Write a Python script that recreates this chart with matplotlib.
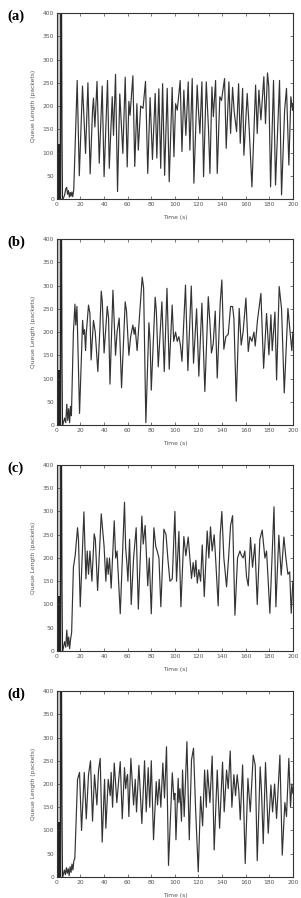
import numpy as np
import matplotlib
matplotlib.use("Agg")
import matplotlib.pyplot as plt

# start-up burst shared by all four runs
burst_t = [0.5, 3.0]
burst_top = [400, 400]
burst_base = [118, 118]
spike_t = [0.0, 3.0, 3.3, 3.9, 4.3, 4.7]
spike_v = [118, 0, 430, 430, 135, 0]

# (a)
qa_time = [5.2, 6.5, 7.5, 8.3, 9.0, 9.8, 10.6, 11.3, 12.0, 12.7,
           13.4, 14.3, 17.2, 19.0, 21.7, 22.5, 24.3, 26.3, 28.2, 30.2,
           31.0, 32.2, 34.0, 35.9, 38.4, 40.0, 42.9, 44.4, 46.9, 48.0,
           49.7, 51.4, 53.3, 55.9, 57.9, 59.6, 61.0, 62.0, 64.4, 66.0,
           67.8, 69.0, 71.0, 73.0, 75.1, 77.0, 79.0, 81.0, 83.3, 84.7,
           86.4, 88.0, 89.6, 91.3, 93.5, 95.2, 97.7, 99.2, 100.6, 102.0,
           104.5, 106.0, 107.6, 109.3, 111.3, 112.7, 114.7, 116.1, 118.9, 120.0,
           121.2, 122.9, 124.3, 126.6, 128.5, 129.7, 131.4, 132.6, 134.5, 135.9,
           138.1, 139.5, 142.1, 143.5, 145.8, 147.2, 148.9, 150.3, 152.3, 154.0,
           155.4, 157.4, 158.5, 161.3, 163.0, 165.3, 168.4, 169.8, 171.2, 172.9,
           175.4, 176.8, 178.5, 179.6, 181.1, 183.6, 185.3, 188.7, 190.4, 193.0,
           194.6, 196.6, 198.3, 199.7, 200.0]
qa_len = [0, 8, 22, 25, 10, 18, 4, 14, 6, 15,
          5, 20, 255, 50, 243, 200, 98, 250, 54, 190,
          217, 155, 253, 77, 243, 48, 255, 66, 220, 137,
          268, 16, 226, 98, 262, 69, 210, 180, 265, 70,
          205, 105, 200, 195, 253, 55, 218, 85, 227, 88,
          237, 66, 248, 51, 238, 37, 240, 91, 205, 191,
          255, 102, 234, 137, 252, 105, 259, 34, 245, 190,
          141, 252, 48, 252, 150, 55, 241, 177, 255, 55,
          220, 212, 259, 109, 252, 141, 240, 187, 145, 248,
          120, 238, 94, 227, 150, 26, 245, 141, 234, 170,
          263, 162, 271, 241, 26, 255, 30, 255, 9, 191,
          238, 73, 220, 191, 205]

# (b)
qb_time = [5.0, 6.5, 7.5, 8.4, 9.2, 10.0, 10.8, 11.5, 12.3, 14.0,
           15.3, 16.0, 17.0, 19.2, 21.8, 22.6, 23.4, 24.3, 25.0, 26.8,
           28.0, 29.0, 31.0, 32.5, 34.7, 36.5, 37.6, 38.5, 40.0, 42.7,
           43.8, 45.0, 47.5, 49.7, 51.0, 52.8, 54.8, 57.9, 59.0, 61.0,
           62.5, 64.4, 65.5, 66.3, 68.0, 69.5, 72.3, 73.5, 75.4, 78.0,
           79.0, 80.0, 83.3, 84.3, 85.9, 89.0, 91.0, 93.3, 95.2, 97.7,
           99.0, 100.6, 102.0, 103.4, 104.8, 106.0, 109.0, 111.0, 113.9, 115.8,
           118.4, 120.3, 122.9, 125.4, 128.3, 129.7, 131.0, 132.5, 134.2, 135.9,
           138.4, 139.8, 141.5, 143.2, 145.2, 147.2, 148.9, 150.0, 152.0, 154.5,
           156.2, 157.8, 160.2, 162.2, 163.6, 165.3, 167.0, 168.1, 170.0, 172.9,
           175.2, 177.7, 179.7, 181.4, 182.5, 184.8, 186.2, 188.4, 190.4, 192.7,
           195.8, 198.0, 199.1, 200.0]
qb_len = [0, 15, 5, 45, 10, 35, 5, 40, 20, 200,
          260, 215, 255, 25, 225, 195, 205, 160, 200, 258,
          240, 140, 225, 200, 115, 210, 288, 265, 155, 255,
          230, 88, 290, 150, 200, 230, 80, 265, 245, 150,
          190, 215, 195, 210, 160, 215, 318, 295, 5, 220,
          180, 75, 275, 245, 125, 265, 115, 294, 120, 258,
          180, 200, 180, 190, 170, 137, 301, 117, 299, 133,
          250, 105, 262, 72, 276, 220, 155, 175, 245, 101,
          262, 312, 163, 190, 195, 255, 255, 230, 51, 251,
          172, 200, 273, 158, 190, 180, 200, 170, 225, 283,
          122, 240, 151, 237, 160, 243, 97, 298, 250, 69,
          251, 190, 160, 200]

# (c)
qc_time = [5.0, 6.5, 7.5, 8.4, 9.2, 10.0, 10.8, 11.6, 12.5, 14.0,
           15.5, 17.5, 18.3, 19.8, 22.9, 24.6, 25.7, 26.8, 28.0, 29.7,
           31.6, 32.6, 34.5, 36.0, 37.6, 38.8, 40.0, 41.5, 42.5, 43.5,
           44.6, 46.0, 48.6, 49.8, 51.0, 53.7, 57.3, 58.3, 59.3, 60.2,
           61.6, 63.0, 65.0, 67.2, 69.0, 72.0, 73.2, 74.8, 77.0, 78.3,
           80.0, 82.2, 83.8, 85.0, 86.5, 88.1, 90.7, 92.5, 94.0, 95.8,
           97.8, 100.0, 101.4, 103.4, 105.1, 107.6, 109.3, 111.3, 112.7, 114.1,
           115.5, 116.7, 117.8, 119.0, 120.3, 121.8, 123.2, 124.9, 127.4, 128.8,
           130.2, 131.6, 133.3, 134.5, 136.7, 138.4, 139.8, 141.5, 143.8, 145.5,
           147.2, 148.9, 150.9, 153.1, 155.1, 156.5, 157.9, 159.3, 160.7, 162.2,
           164.1, 165.8, 167.8, 169.8, 172.0, 174.0, 176.3, 177.7, 179.1, 180.5,
           184.0, 185.6, 188.1, 190.1, 192.4, 194.1, 195.8, 197.3, 198.6, 200.0]
qc_len = [0, 20, 8, 45, 10, 30, 5, 25, 40, 180,
          205, 265, 240, 95, 299, 155, 215, 165, 215, 150,
          252, 240, 130, 210, 295, 260, 225, 150, 200, 165,
          200, 135, 280, 200, 215, 80, 320, 220, 190, 150,
          240, 100, 200, 265, 90, 290, 230, 270, 140, 200,
          80, 265, 225, 215, 200, 95, 262, 250, 200, 150,
          155, 300, 150, 257, 95, 246, 205, 245, 200, 156,
          190, 160, 195, 146, 175, 150, 228, 117, 258, 200,
          267, 215, 250, 200, 97, 250, 300, 200, 138, 200,
          270, 291, 77, 200, 215, 205, 200, 215, 160, 140,
          244, 180, 230, 100, 240, 260, 200, 215, 150, 81,
          310, 95, 249, 163, 245, 200, 165, 170, 81, 150]

# (d)
qd_time = [5.0, 6.3, 7.2, 8.0, 8.8, 9.6, 10.4, 11.2, 12.0, 12.8,
           13.6, 14.4, 15.2, 17.5, 19.2, 20.9, 23.2, 24.9, 26.8, 28.5,
           30.2, 31.9, 33.9, 35.3, 36.7, 38.4, 40.4, 41.5, 43.5, 45.2,
           46.0, 47.2, 48.6, 49.8, 50.8, 53.7, 55.4, 57.3, 58.3, 59.3,
           59.9, 61.0, 62.7, 65.0, 66.4, 67.5, 69.5, 72.0, 74.3, 75.7,
           77.4, 78.7, 80.0, 81.9, 84.2, 85.3, 86.7, 88.1, 89.8, 91.2,
           92.9, 94.6, 97.8, 99.2, 100.0, 100.9, 102.8, 103.4, 104.3, 105.6,
           106.5, 107.9, 110.2, 112.2, 114.1, 115.8, 117.5, 119.8, 121.8, 123.5,
           125.2, 126.6, 127.7, 129.7, 131.6, 133.3, 135.9, 137.9, 140.4, 141.8,
           143.8, 145.2, 146.9, 148.3, 150.0, 151.4, 152.8, 154.2, 155.4, 157.4,
           159.6, 161.9, 163.9, 166.4, 168.1, 169.8, 172.3, 173.4, 174.9, 176.8,
           179.1, 181.4, 182.8, 184.5, 186.2, 189.0, 191.0, 193.2, 194.6, 196.6,
           198.0, 199.1, 200.0]
qd_len = [0, 15, 5, 20, 8, 18, 3, 22, 10, 28,
          15, 35, 40, 210, 225, 100, 225, 125, 220, 250,
          120, 220, 155, 230, 255, 75, 210, 105, 210, 175,
          225, 150, 245, 200, 160, 248, 125, 235, 190, 215,
          220, 130, 255, 155, 210, 140, 240, 115, 250, 140,
          235, 150, 250, 80, 205, 155, 210, 150, 245, 170,
          280, 25, 224, 166, 180, 80, 212, 160, 190, 120,
          230, 130, 291, 80, 252, 277, 150, 11, 173, 110,
          230, 150, 230, 160, 260, 58, 230, 105, 247, 140,
          230, 190, 271, 150, 220, 175, 220, 185, 123, 241,
          29, 212, 140, 262, 240, 35, 237, 185, 72, 246,
          94, 198, 140, 200, 126, 262, 47, 160, 130, 255,
          150, 200, 180]

panels = [('(a)', qa_time, qa_len), ('(b)', qb_time, qb_len),
          ('(c)', qc_time, qc_len), ('(d)', qd_time, qd_len)]

fig = plt.figure(figsize=(3.01, 8.98), dpi=100)
bottoms = [0.7784, 0.5267, 0.2751, 0.0234]
line_col = '#333333'
txt_col = '#555555'

for (tag, t, q), b in zip(panels, bottoms):
    ax = fig.add_axes([0.189, b, 0.784, 0.2071])
    ax.fill_between(burst_t, 0, burst_top, color='#c4c4c4', lw=0)
    ax.fill_between(burst_t, 0, burst_base, color='#222222', lw=0)
    ax.plot(spike_t, spike_v, color='#222222', lw=0.9)
    ax.plot(spike_t[-1:] + t, spike_v[-1:] + q, color=line_col, lw=0.85)

    ax.set_xlim(0, 200)
    ax.set_ylim(0, 400)
    ax.set_xticks(np.arange(0, 201, 20))
    ax.set_yticks(np.arange(0, 401, 50))
    ax.tick_params(direction='in', length=2, width=0.5, top=True, right=True,
                   labelsize=4.3, labelcolor=txt_col, color='#444444', pad=2)
    for s in ax.spines.values():
        s.set_linewidth(0.8)
        s.set_color('#333333')
    ax.set_xlabel('Time (s)', fontsize=4.3, color=txt_col, labelpad=6)
    ax.set_ylabel('Queue Length (packets)', fontsize=4.3, color=txt_col, labelpad=5)

    top = b + 0.2071
    fig.text(0.025, top - 0.0035, tag, fontsize=10.5, fontweight='bold',
             family='Liberation Serif', ha='left', va='center')

plt.savefig('out.png', dpi=100)
